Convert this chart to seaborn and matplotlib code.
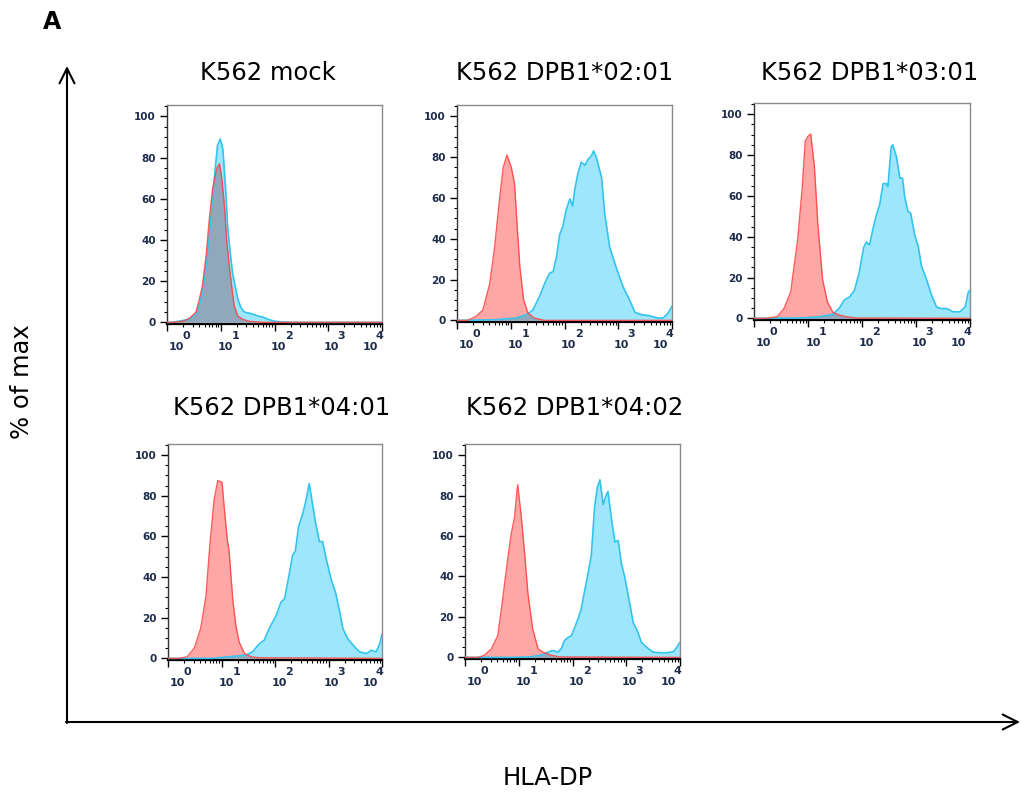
import numpy as np
import matplotlib
matplotlib.use("Agg")
import matplotlib.pyplot as plt
import seaborn as sns
from matplotlib.ticker import MultipleLocator, LogLocator, NullFormatter
import matplotlib.transforms as mtransforms

# ---------------- data (log10 fluorescence, % of max) ----------------
titles = ["K562 mock", "K562 DPB1*02:01", "K562 DPB1*03:01",
          "K562 DPB1*04:01", "K562 DPB1*04:02"]

mock_red_log = [0.0, 0.10, 0.30, 0.42, 0.54, 0.60, 0.66, 0.73, 0.79, 0.85, 0.93, 0.975,
                1.02, 1.07, 1.11, 1.16, 1.21, 1.25, 1.32, 1.41, 1.53, 1.78, 4.0]
mock_red_pct = [0, 0, 0.5, 2, 5, 11, 18, 33, 51, 65, 75, 77,
                70, 56, 40, 27, 16, 8, 3, 1.5, 0.5, 0, 0]
mock_blue_log = [0.0, 0.10, 0.42, 0.54, 0.62, 0.69, 0.75, 0.82, 0.88, 0.94, 0.99, 1.04, 1.09,
                 1.13, 1.18, 1.22, 1.28, 1.32, 1.38, 1.44, 1.52, 1.60, 1.70, 1.78, 1.90,
                 2.00, 2.09, 2.30, 4.0]
mock_blue_pct = [0, 0, 1.5, 4, 10, 20, 33, 52, 70, 86, 89, 84, 65,
                 46, 33, 24, 16, 11, 7, 5, 4.5, 4, 3, 2.6, 1.3,
                 0.6, 0.3, 0, 0]

dp0201_red_log = [0.0, 0.2, 0.36, 0.48, 0.61, 0.70, 0.79, 0.86, 0.93, 1.01, 1.07, 1.12,
                  1.17, 1.24, 1.32, 1.44, 1.63, 4.0]
dp0201_red_pct = [0, 0, 2, 5, 18, 36, 59, 75, 81, 75, 67, 46,
                  26, 10, 3.6, 1.1, 0, 0]
dp0201_blue_log = [0.0, 0.73, 0.92, 1.10, 1.29, 1.41, 1.54, 1.63, 1.72, 1.79, 1.85, 1.91,
                   1.97, 2.03, 2.10, 2.15, 2.19, 2.25, 2.31, 2.38, 2.44, 2.50, 2.54, 2.59,
                   2.69, 2.75, 2.84, 2.96, 3.09, 3.21, 3.31, 3.43, 3.58, 3.74, 3.83, 3.93, 4.0]
dp0201_blue_pct = [0, 0.3, 0.8, 1.1, 2.8, 5, 12, 18, 23, 24, 31, 42,
                   46, 54, 59.5, 56, 64, 72, 77.5, 76, 79, 80.5, 83, 80,
                   70, 52, 36, 26, 16.5, 10, 4, 2.8, 2.3, 1.1, 1.1, 3.6, 7]

dp0301_red_log = [0.0, 0.22, 0.43, 0.56, 0.68, 0.81, 0.89, 0.95, 1.01, 1.05, 1.12, 1.18,
                  1.27, 1.36, 1.46, 1.58, 1.71, 1.89, 4.0]
dp0301_red_pct = [0, 0, 0.8, 5, 13, 39, 63, 87, 89.5, 90.3, 74, 47,
                  19, 8, 3, 1.6, 0.8, 0.2, 0]
dp0301_blue_log = [0.0, 0.9, 1.21, 1.46, 1.58, 1.67, 1.77, 1.86, 1.95, 2.03, 2.08, 2.14,
                   2.20, 2.26, 2.33, 2.39, 2.45, 2.48, 2.54, 2.57, 2.64, 2.70, 2.75, 2.79,
                   2.85, 2.90, 2.98, 3.04, 3.10, 3.19, 3.29, 3.38, 3.47, 3.57, 3.69, 3.81,
                   3.91, 3.97, 4.0]
dp0301_blue_pct = [0, 0.2, 0.8, 2, 5, 9, 10.5, 13.7, 22.6, 34.7, 37.4, 36,
                   43.5, 50, 56, 66, 66, 64.5, 84, 85, 79, 68.7, 68.7, 59.7,
                   52.4, 51.6, 40.3, 35.5, 25.8, 19.4, 11.3, 5.6, 4.8, 4.8, 3.2, 3.2,
                   5.6, 13, 13.7]

dp0401_red_log = [0.0, 0.21, 0.36, 0.49, 0.61, 0.71, 0.78, 0.86, 0.93, 1.01, 1.05, 1.11,
                  1.14, 1.21, 1.27, 1.33, 1.43, 1.55, 1.71, 4.0]
dp0401_red_pct = [0, 0, 0.8, 5, 14.6, 30.8, 55, 77.8, 87.5, 86.7, 74.5, 58,
                  53.5, 29, 16, 8, 2.4, 0.8, 0.3, 0]
dp0401_blue_log = [0.0, 0.83, 1.14, 1.46, 1.58, 1.71, 1.80, 1.89, 2.02, 2.11, 2.18, 2.27,
                   2.33, 2.38, 2.44, 2.52, 2.58, 2.64, 2.69, 2.76, 2.83, 2.89, 2.96, 3.05,
                   3.14, 3.21, 3.27, 3.36, 3.46, 3.58, 3.71, 3.80, 3.89, 3.96, 4.0]
dp0401_blue_pct = [0, 0, 0.8, 1.6, 3.2, 7.3, 9, 14.6, 21, 27.5, 29.5, 42,
                   51, 52.7, 64.8, 71.3, 77.8, 86, 77.8, 66.5, 57.5, 57.5, 48.6, 38.9,
                   31.6, 22.7, 14.6, 9.7, 6.5, 3.2, 2.4, 4, 3.2, 7.3, 12]

dp0402_red_log = [0.0, 0.24, 0.36, 0.49, 0.61, 0.70, 0.80, 0.86, 0.92, 0.98, 1.05, 1.11,
                  1.17, 1.26, 1.36, 1.45, 1.57, 1.76, 4.0]
dp0402_red_pct = [0, 0, 1, 4.2, 10.7, 28.6, 49.7, 61, 69, 85.4, 69, 51.3,
                  31.8, 14, 4.2, 2.6, 1.3, 0.2, 0]
dp0402_blue_log = [0.0, 0.89, 1.20, 1.45, 1.54, 1.64, 1.73, 1.79, 1.85, 1.92, 1.98, 2.04,
                   2.10, 2.16, 2.23, 2.29, 2.35, 2.41, 2.46, 2.51, 2.57, 2.63, 2.66, 2.73,
                   2.79, 2.85, 2.91, 2.97, 3.04, 3.13, 3.22, 3.28, 3.38, 3.50, 3.63, 3.76,
                   3.88, 3.94, 4.0]
dp0402_blue_pct = [0, 0, 0.2, 1.3, 2.6, 3.4, 2.6, 4.2, 8.3, 9.9, 10.7, 14.8,
                   18.8, 23.7, 33.4, 41.6, 50.5, 74, 83.8, 87.8, 75.6, 80.5, 82, 67.5,
                   57, 57.8, 46.4, 40, 30.2, 17.2, 12.3, 7.5, 5, 2.6, 2.3, 2.3,
                   2.9, 5, 7.5]

red_logs = [mock_red_log, dp0201_red_log, dp0301_red_log, dp0401_red_log, dp0402_red_log]
red_pcts = [mock_red_pct, dp0201_red_pct, dp0301_red_pct, dp0401_red_pct, dp0402_red_pct]
blue_logs = [mock_blue_log, dp0201_blue_log, dp0301_blue_log, dp0401_blue_log, dp0402_blue_log]
blue_pcts = [mock_blue_pct, dp0201_blue_pct, dp0301_blue_pct, dp0401_blue_pct, dp0402_blue_pct]

y_ticks = [0, 20, 40, 60, 80, 100]
x_decades = [0, 1, 2, 3, 4]

# ---------------- style ----------------
sns.set_theme(style="ticks")
plt.rcParams["font.family"] = ["DejaVu Sans"]
plt.rcParams["text.color"] = "black"

W, H = 1021, 796
fig = plt.figure(figsize=(W / 100, H / 100), dpi=100)

# panel boxes in pixels: left, right, top, bottom
boxes = [(167, 382, 105, 324), (457, 672, 105, 322), (754, 970, 103, 320),
         (168, 382, 444, 660), (465, 680, 444, 659)]
title_pos = [(268, 73), (565, 73), (870, 73), (282, 408), (575, 408)]

RED_FILL, RED_LINE = "#FFA6A6", "#FF3F3F"
BLUE_FILL, BLUE_LINE = "#9DE6FC", "#33C4EE"
OVER_FILL = "#8FA8BC"
TICK_COL = "#1E2B4A"

# pixel offsets of the "10" base and the exponent from each decade tick
base_dx = {0: 9, 1: 5, 2: 4, 3: 3, 4: -12}
exp_dx = {0: 19, 1: 15, 2: 14, 3: 13, 4: -3}

for i in range(5):
    l, r, t, b = boxes[i]
    ax = fig.add_axes([l / W, 1 - b / H, (r - l) / W, (b - t) / H])
    ax.set_xscale("log")
    rx = 10 ** np.array(red_logs[i]); ry = np.array(red_pcts[i])
    bx = 10 ** np.array(blue_logs[i]); by = np.array(blue_pcts[i])

    ax.fill_between(bx, 0, by, color=BLUE_FILL, lw=0, zorder=1)
    ax.fill_between(rx, 0, ry, color=RED_FILL, lw=0, zorder=2)
    # overlap of the two histograms
    g = np.linspace(0, 4, 801)
    ov = np.minimum(np.interp(g, red_logs[i], red_pcts[i]),
                    np.interp(g, blue_logs[i], blue_pcts[i]))
    ax.fill_between(10 ** g, 0, ov, color=OVER_FILL, lw=0, zorder=3)

    sns.lineplot(x=bx, y=by, ax=ax, color=BLUE_LINE, lw=1.2, sort=False,
                 estimator=None, zorder=4)
    sns.lineplot(x=rx, y=ry, ax=ax, color=RED_LINE, lw=1.0, sort=False,
                 estimator=None, zorder=5, alpha=0.85)

    ax.set_xlim(1, 1e4)
    ax.set_ylim(-0.8, 105.5)
    ax.set_yticks(y_ticks)
    ax.yaxis.set_minor_locator(MultipleLocator(5))
    ax.set_yticklabels([str(v) for v in y_ticks], fontsize=7.5,
                       fontweight="bold", color=TICK_COL)
    ax.set_xticks([10 ** d for d in x_decades])
    ax.xaxis.set_minor_locator(LogLocator(base=10, subs=np.arange(2, 10), numticks=20))
    ax.xaxis.set_minor_formatter(NullFormatter())
    ax.set_xticklabels([])
    ax.tick_params(axis="both", which="major", length=5, width=1, color="black",
                   pad=3, direction="out")
    ax.tick_params(axis="both", which="minor", length=2.5, width=0.8, color="black",
                   direction="out")
    for s in ["top", "right"]:
        ax.spines[s].set_color("#8A8A8A"); ax.spines[s].set_linewidth(1.0)
    ax.spines["left"].set_color("#333333"); ax.spines["left"].set_linewidth(1.0)
    ax.spines["bottom"].set_color("black"); ax.spines["bottom"].set_linewidth(1.6)
    ax.set_xlabel(""); ax.set_ylabel("")

    trans = mtransforms.blended_transform_factory(ax.transData, ax.transAxes)
    for d in x_decades:
        tb = trans + mtransforms.ScaledTranslation(base_dx[d] / 100, -23 / 100,
                                                   fig.dpi_scale_trans)
        te = trans + mtransforms.ScaledTranslation(exp_dx[d] / 100, -12 / 100,
                                                   fig.dpi_scale_trans)
        ax.text(10 ** d, 0, "10", transform=tb, ha="center", va="center",
                fontsize=8, fontweight="bold", color=TICK_COL)
        ax.text(10 ** d, 0, str(d), transform=te, ha="center", va="center",
                fontsize=8, fontweight="bold", color=TICK_COL)

    tx, ty = title_pos[i]
    fig.text(tx / W, 1 - ty / H, titles[i], ha="center", va="center", fontsize=17.5,
             color="black")

# big axis arrows
arr = fig.add_axes([0, 0, 1, 1], facecolor="none")
arr.set_xlim(0, W); arr.set_ylim(H, 0); arr.axis("off")
arr.annotate("", xy=(67, 66), xytext=(67, 723),
             arrowprops=dict(arrowstyle="->,head_length=0.9,head_width=0.45",
                             lw=1.5, color="black", shrinkA=0, shrinkB=0))
arr.annotate("", xy=(1020, 722), xytext=(66, 722),
             arrowprops=dict(arrowstyle="->,head_length=0.9,head_width=0.45",
                             lw=1.5, color="black", shrinkA=0, shrinkB=0))

fig.text(52 / W, 1 - 22 / H, "A", ha="center", va="center", fontsize=17,
         fontweight="bold", color="black")
fig.text(22 / W, 1 - 382 / H, "% of max", ha="center", va="center", fontsize=17.5,
         rotation=90, color="black")
fig.text(548 / W, 1 - 778 / H, "HLA-DP", ha="center", va="center", fontsize=17.5,
         color="black")

fig.savefig("out.png", dpi=100)
